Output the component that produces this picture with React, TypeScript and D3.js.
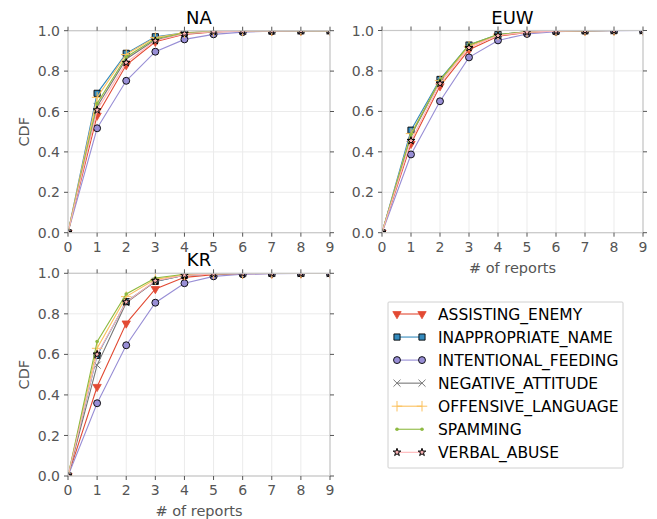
import React from "react";
import * as d3 from "d3";

// # of reports (x) and tick values
const reports = [0, 1, 2, 3, 4, 5, 6, 7, 8, 9];
const xTicks = [0, 1, 2, 3, 4, 5, 6, 7, 8, 9];
const yTicks = [0, 0.2, 0.4, 0.6, 0.8, 1.0];

const categories = [
  "ASSISTING_ENEMY",
  "INAPPROPRIATE_NAME",
  "INTENTIONAL_FEEDING",
  "NEGATIVE_ATTITUDE",
  "OFFENSIVE_LANGUAGE",
  "SPAMMING",
  "VERBAL_ABUSE",
];

// CDF values per region, same order as categories
const naValues = [
  [0, 0.58, 0.83, 0.945, 0.982, 0.994, 0.998, 0.999, 1, 1],
  [0, 0.69, 0.888, 0.97, 0.99, 0.997, 0.999, 1, 1, 1],
  [0, 0.517, 0.752, 0.896, 0.957, 0.982, 0.993, 0.997, 0.999, 1],
  [0, 0.625, 0.86, 0.955, 0.985, 0.995, 0.998, 0.999, 1, 1],
  [0, 0.67, 0.882, 0.966, 0.99, 0.997, 0.999, 1, 1, 1],
  [0, 0.64, 0.87, 0.96, 0.988, 0.996, 0.999, 1, 1, 1],
  [0, 0.607, 0.842, 0.95, 0.985, 0.995, 0.998, 0.999, 1, 1],
];
const euwValues = [
  [0, 0.44, 0.725, 0.905, 0.972, 0.99, 0.997, 0.999, 1, 1],
  [0, 0.507, 0.758, 0.928, 0.98, 0.994, 0.998, 0.999, 1, 1],
  [0, 0.387, 0.65, 0.867, 0.951, 0.983, 0.994, 0.998, 0.999, 1],
  [0, 0.48, 0.75, 0.925, 0.978, 0.993, 0.998, 0.999, 1, 1],
  [0, 0.49, 0.752, 0.922, 0.978, 0.993, 0.998, 0.999, 1, 1],
  [0, 0.485, 0.755, 0.93, 0.98, 0.994, 0.998, 0.999, 1, 1],
  [0, 0.455, 0.738, 0.915, 0.975, 0.992, 0.997, 0.999, 1, 1],
];
const krValues = [
  [0, 0.44, 0.753, 0.923, 0.98, 0.993, 0.998, 0.999, 1, 1],
  [0, 0.595, 0.86, 0.96, 0.99, 0.997, 0.999, 1, 1, 1],
  [0, 0.359, 0.645, 0.855, 0.951, 0.985, 0.995, 0.998, 0.999, 1],
  [0, 0.547, 0.855, 0.96, 0.99, 0.997, 0.999, 1, 1, 1],
  [0, 0.63, 0.885, 0.97, 0.992, 0.998, 0.999, 1, 1, 1],
  [0, 0.663, 0.898, 0.977, 0.995, 0.998, 1, 1, 1, 1],
  [0, 0.6, 0.858, 0.963, 0.99, 0.997, 0.999, 1, 1, 1],
];

const colors = ["#E24A33", "#348ABD", "#988ED5", "#777777", "#FBC15E", "#8EBA42", "#FFB5B8"];

const FONT = "DejaVu Sans, sans-serif";
const TEXT_GRAY = "#555555";

const panels = [
  { title: "NA", values: naValues, left: 68, right: 330, top: 30.7, bottom: 232.7, xlabel: false, ylabel: true },
  { title: "EUW", values: euwValues, left: 382, right: 643, top: 30.5, bottom: 232.7, xlabel: true, ylabel: false },
  { title: "KR", values: krValues, left: 68, right: 330, top: 273.3, bottom: 476, xlabel: true, ylabel: true },
];

function Marker({ i, x, y }: { i: number; x: number; y: number }) {
  const c = colors[i];
  const t = `translate(${x},${y})`;
  switch (i) {
    case 0:
      return (
        <path
          transform={`${t} rotate(180)`}
          d={d3.symbol(d3.symbolTriangle, 30)() as string}
          fill={c}
          stroke={c}
          strokeWidth={0.8}
        />
      );
    case 1:
      return <path transform={t} d={d3.symbol(d3.symbolSquare, 38)() as string} fill={c} stroke="#000" strokeWidth={0.9} />;
    case 2:
      return <path transform={t} d={d3.symbol(d3.symbolCircle, 38)() as string} fill={c} stroke="#000" strokeWidth={0.9} />;
    case 3:
      return <path transform={t} d={d3.symbol(d3.symbolX, 34)() as string} fill="none" stroke={c} strokeWidth={1} />;
    case 4:
      return <path transform={t} d={d3.symbol(d3.symbolPlus, 38)() as string} fill="none" stroke={c} strokeWidth={1} />;
    case 5:
      return <circle cx={x} cy={y} r={1.8} fill={c} />;
    default:
      return <path transform={t} d={d3.symbol(d3.symbolStar, 18)() as string} fill={c} stroke="#000" strokeWidth={1} />;
  }
}

function Panel({ p, idx }: { p: (typeof panels)[number]; idx: number }) {
  const x = d3.scaleLinear().domain([0, 9]).range([p.left, p.right]);
  const y = d3.scaleLinear().domain([0, 1]).range([p.bottom, p.top]);
  const line = d3
    .line<number>()
    .x((_, j) => x(reports[j]))
    .y((d) => y(d));
  const clipId = `clip-${idx}`;
  const tl = 4;
  return (
    <g>
      <defs>
        <clipPath id={clipId}>
          <rect x={p.left} y={p.top} width={p.right - p.left} height={p.bottom - p.top} />
        </clipPath>
      </defs>
      <rect x={p.left} y={p.top} width={p.right - p.left} height={p.bottom - p.top} fill="#fff" />
      {xTicks.map((t) => (
        <line key={"gx" + t} x1={x(t)} x2={x(t)} y1={p.top} y2={p.bottom} stroke="#ebebeb" strokeWidth={1} />
      ))}
      {yTicks.map((t) => (
        <line key={"gy" + t} x1={p.left} x2={p.right} y1={y(t)} y2={y(t)} stroke="#ebebeb" strokeWidth={1} />
      ))}
      <g clipPath={`url(#${clipId})`}>
        {p.values.map((vals, i) => (
          <g key={categories[i]}>
            <path d={line(vals) as string} fill="none" stroke={colors[i]} strokeWidth={1.1} />
            {vals.map((v, j) => (
              <Marker key={j} i={i} x={x(reports[j])} y={y(v)} />
            ))}
          </g>
        ))}
      </g>
      <rect
        x={p.left}
        y={p.top}
        width={p.right - p.left}
        height={p.bottom - p.top}
        fill="none"
        stroke="#c8c8c8"
        strokeWidth={1.2}
      />
      {xTicks.map((t) => (
        <g key={"tx" + t}>
          <line x1={x(t)} x2={x(t)} y1={p.bottom} y2={p.bottom + tl} stroke={TEXT_GRAY} />
          <line x1={x(t)} x2={x(t)} y1={p.top} y2={p.top - tl} stroke={TEXT_GRAY} />
          <text x={x(t)} y={p.bottom + 19} textAnchor="middle" fontFamily={FONT} fontSize={14} fill={TEXT_GRAY}>
            {t}
          </text>
        </g>
      ))}
      {yTicks.map((t) => (
        <g key={"ty" + t}>
          <line x1={p.left - tl} x2={p.left} y1={y(t)} y2={y(t)} stroke={TEXT_GRAY} />
          <line x1={p.right} x2={p.right + tl} y1={y(t)} y2={y(t)} stroke={TEXT_GRAY} />
          <text
            x={p.left - 8}
            y={y(t)}
            dy="0.36em"
            textAnchor="end"
            fontFamily={FONT}
            fontSize={14}
            fill={TEXT_GRAY}
          >
            {d3.format(".1f")(t)}
          </text>
        </g>
      ))}
      <text
        x={(p.left + p.right) / 2}
        y={p.top - 7}
        textAnchor="middle"
        fontFamily={FONT}
        fontSize={18}
        fill="#000"
      >
        {p.title}
      </text>
      {p.xlabel && (
        <text
          x={(p.left + p.right) / 2}
          y={p.bottom + 40}
          textAnchor="middle"
          fontFamily={FONT}
          fontSize={14.5}
          fill={TEXT_GRAY}
        >
          # of reports
        </text>
      )}
      {p.ylabel && (
        <text
          transform={`translate(29,${(p.top + p.bottom) / 2}) rotate(-90)`}
          textAnchor="middle"
          fontFamily={FONT}
          fontSize={14.5}
          fill={TEXT_GRAY}
        >
          CDF
        </text>
      )}
    </g>
  );
}

function Legend() {
  const rowY = d3.scaleLinear().domain([0, categories.length - 1]).range([314, 452.3]);
  const x0 = 397;
  const x1 = 422;
  return (
    <g>
      <rect x={388} y={302} width={235} height={166} fill="#fff" stroke="#d0d0d0" strokeWidth={1} rx={1} />
      {categories.map((c, i) => (
        <g key={c}>
          <line x1={x0} x2={x1} y1={rowY(i)} y2={rowY(i)} stroke={colors[i]} strokeWidth={1.1} />
          <Marker i={i} x={x0} y={rowY(i)} />
          <Marker i={i} x={x1} y={rowY(i)} />
          <text x={438} y={rowY(i)} dy="0.36em" fontFamily={FONT} fontSize={15.5} fill="#000">
            {c}
          </text>
        </g>
      ))}
    </g>
  );
}

export default function App() {
  return (
    <div style={{ position: "absolute", left: 0, top: 0 }}>
      <svg width={657} height={519} style={{ display: "block", background: "#fff" }}>
        {panels.map((p, i) => (
          <Panel key={p.title} p={p} idx={i} />
        ))}
        <Legend />
      </svg>
    </div>
  );
}
